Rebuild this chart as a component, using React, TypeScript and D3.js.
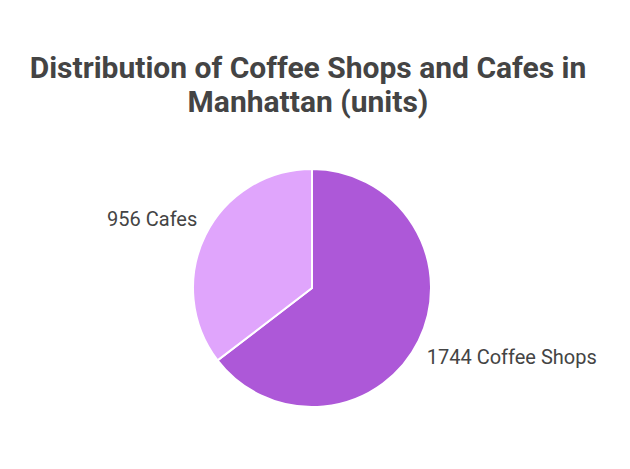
import React from "react";
import * as d3 from "d3";

const categories = ["Coffee Shops", "Cafes"];
const values = [1744, 956];
const colors = ["#AD58D8", "#E0A5FC"];
const titleLines = ["Distribution of Coffee Shops and Cafes in", "Manhattan (units)"];

const W = 630;
const H = 469;
const cx = 312;
const cy = 288;
const R = 119;

export default function App() {
  const pie = d3.pie<number>().sort(null).value((d) => d)(values);
  const arc = d3.arc<d3.PieArcDatum<number>>().innerRadius(0).outerRadius(R);
  const labelArc = d3.arc<d3.PieArcDatum<number>>().innerRadius(156).outerRadius(156);
  return (
    <svg
      width={W}
      height={H}
      style={{ position: "absolute", left: 0, top: 0, background: "#fff" }}
      fontFamily="Roboto, sans-serif"
    >
      {titleLines.map((t, i) => (
        <text
          key={i}
          x={308}
          y={77.5 + i * 34.3}
          textAnchor="middle"
          fontSize={30}
          fontWeight="bold"
          fill="#444444"
        >
          {t}
        </text>
      ))}
      <g transform={`translate(${cx},${cy})`}>
        {pie.map((p, i) => (
          <path key={i} d={arc(p) as string} fill={colors[i]} stroke="#fff" strokeWidth={2} />
        ))}
        {pie.map((p, i) => {
          const [lx, ly] = labelArc.centroid(p);
          const right = lx > 0;
          return (
            <text
              key={"l" + i}
              x={lx * 0.82}
              y={ly}
              dy="0.35em"
              textAnchor={right ? "start" : "end"}
              fontSize={20}
              fill="#444444"
            >
              {`${values[i]} ${categories[i]}`}
            </text>
          );
        })}
      </g>
    </svg>
  );
}
